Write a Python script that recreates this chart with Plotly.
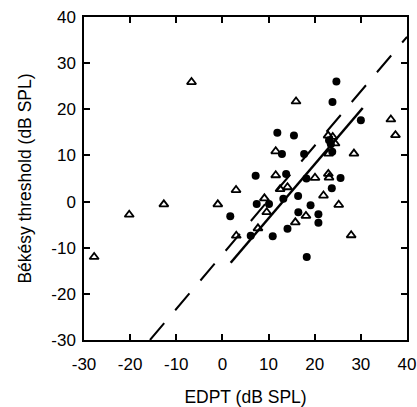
import plotly.graph_objects as go

# Open triangles
tri_x = [-27.8, -20.2, -12.7, -6.7, -1.0, 2.95, 3.0, 7.7, 9.1, 9.6, 11.55, 11.55, 12.5, 14.1,
         15.8, 15.95, 18.1, 20.06, 21.9, 22.95, 23.1, 23.0, 22.9, 23.9, 24.4, 25.2, 27.9, 28.5,
         36.5, 37.5]
tri_y = [-12.0, -2.85, -0.6, 25.9, -0.6, 2.5, -7.4, -5.8, 0.7, -2.3, 10.9, 5.7, 2.7, 3.1,
         -4.5, 21.7, -3.1, 5.15, 1.3, 6.0, 5.2, 10.4, 14.3, 14.0, 12.6, -0.7, -7.3, 10.4,
         17.8, 14.4]

# Filled circles
dot_x = [1.7, 6.13, 7.2, 7.43, 10.1, 10.9, 11.9, 12.9, 13.2, 13.8, 14.1, 15.5, 16.4, 16.45,
         17.7, 18.2, 18.27, 19.1, 20.8, 20.8, 23.7, 23.85, 24.7, 25.6, 30.0, 23.8, 23.1, 23.5]
dot_y = [-3.2, -7.4, 5.6, -0.5, -0.55, -7.5, 14.9, 10.3, 0.6, 6.0, -5.9, 14.3, 1.2, -2.3,
         10.3, 5.0, -12.0, -0.8, -2.75, -4.6, 2.9, 21.6, 26.0, 5.1, 17.6, 10.8, 13.3, 12.4]

# Regression lines (endpoints)
solid_x = [1.79, 30.4]
solid_y = [-13.25, 20.27]
dash_x = [-15.7, 40.0]
dash_y = [-30.0, 35.7]

x_ticks = [-30, -20, -10, 0, 10, 20, 30, 40]
y_ticks = [-30, -20, -10, 0, 10, 20, 30, 40]

fig = go.Figure()
fig.add_trace(go.Scatter(x=dash_x, y=dash_y, mode="lines",
                         line=dict(color="black", width=2, dash="22px,17px"),
                         showlegend=False, hoverinfo="skip"))
fig.add_trace(go.Scatter(x=solid_x, y=solid_y, mode="lines",
                         line=dict(color="black", width=2.5),
                         showlegend=False, hoverinfo="skip"))
fig.add_trace(go.Scatter(x=tri_x, y=tri_y, mode="markers",
                         marker=dict(symbol="triangle-up-open", size=8, color="black",
                                     line=dict(width=1.8, color="black")),
                         showlegend=False))
fig.add_trace(go.Scatter(x=dot_x, y=dot_y, mode="markers",
                         marker=dict(symbol="circle", size=8, color="black"),
                         showlegend=False))

font = dict(family="Liberation Sans, Arial, sans-serif", size=17, color="black")
title_font = dict(family="Liberation Sans, Arial, sans-serif", size=17.5, color="black")

axis_common = dict(
    showgrid=False, zeroline=False, showline=True, linecolor="black", linewidth=1.5,
    mirror="ticks", ticks="inside", ticklen=6, tickwidth=1.5, tickcolor="black",
    tickfont=font,
)

fig.update_xaxes(range=[-30, 40], tickvals=x_ticks, ticktext=[str(v) for v in x_ticks],
                 title=dict(text="EDPT (dB SPL)", font=title_font, standoff=18),
                 ticklabelstandoff=8, **axis_common)
fig.update_yaxes(range=[-30, 40], tickvals=y_ticks, ticktext=[str(v) for v in y_ticks],
                 title=dict(text="Békésy threshold (dB SPL)", font=title_font, standoff=15),
                 ticklabelstandoff=3, **axis_common)

fig.update_layout(
    width=417, height=407,
    margin=dict(l=84, r=10, t=17, b=67, autoexpand=False),
    plot_bgcolor="white", paper_bgcolor="white",
    font=font,
)

fig.write_html("out.html", config={"displayModeBar": False},
               post_script="document.body.style.margin='0px';")
